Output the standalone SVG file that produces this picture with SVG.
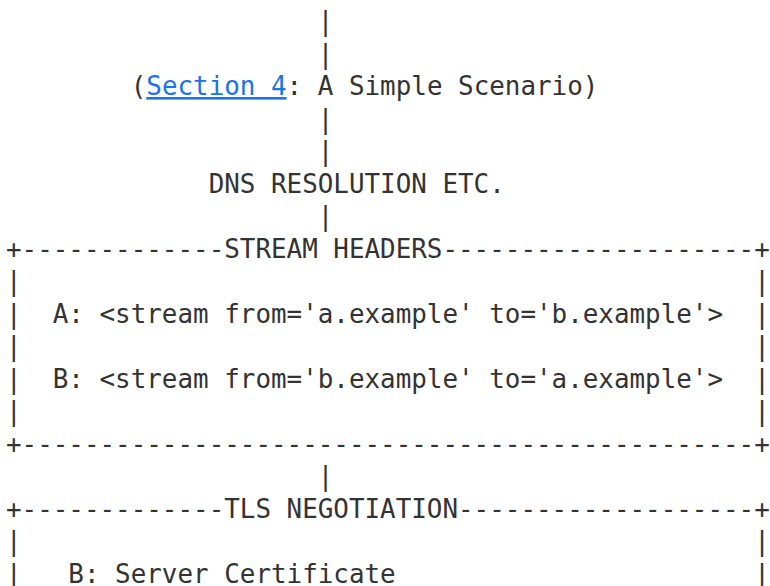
<svg xmlns="http://www.w3.org/2000/svg" width="770" height="586" viewBox="0 0 770 586">
<style>
text{font-family:"DejaVu Sans Mono","Liberation Mono",monospace;font-size:25.9px;fill:#333;white-space:pre}
.link{fill:#1a73e8;text-decoration:underline}
</style>
<rect width="770" height="586" fill="#fff"/>
<g id="connectors">
<text x="6" y="30" xml:space="preserve">                    |</text>
<text x="6" y="62.5" xml:space="preserve">                    |</text>
<text x="6" y="127.5" xml:space="preserve">                    |</text>
<text x="6" y="160" xml:space="preserve">                    |</text>
<text x="6" y="225" xml:space="preserve">                    |</text>
<text x="6" y="485" xml:space="preserve">                    |</text>
</g>
<g id="scenario">
<text x="6" y="95" xml:space="preserve">        (<tspan class="link">Section 4</tspan>: A Simple Scenario)</text>
</g>
<g id="dns">
<text x="6" y="192.5" xml:space="preserve">             DNS RESOLUTION ETC.</text>
</g>
<g id="stream-headers">
<text x="6" y="257.5" xml:space="preserve">+-------------STREAM HEADERS--------------------+</text>
<text x="6" y="290" xml:space="preserve">|                                               |</text>
<text x="6" y="322.5" xml:space="preserve">|  A: &lt;stream from='a.example' to='b.example'&gt;  |</text>
<text x="6" y="355" xml:space="preserve">|                                               |</text>
<text x="6" y="387.5" xml:space="preserve">|  B: &lt;stream from='b.example' to='a.example'&gt;  |</text>
<text x="6" y="420" xml:space="preserve">|                                               |</text>
<text x="6" y="452.5" xml:space="preserve">+-----------------------------------------------+</text>
</g>
<g id="tls-negotiation">
<text x="6" y="517.5" xml:space="preserve">+-------------TLS NEGOTIATION-------------------+</text>
<text x="6" y="550" xml:space="preserve">|                                               |</text>
<text x="6" y="582.5" xml:space="preserve">|   B: Server Certificate                       |</text>
</g>
</svg>
